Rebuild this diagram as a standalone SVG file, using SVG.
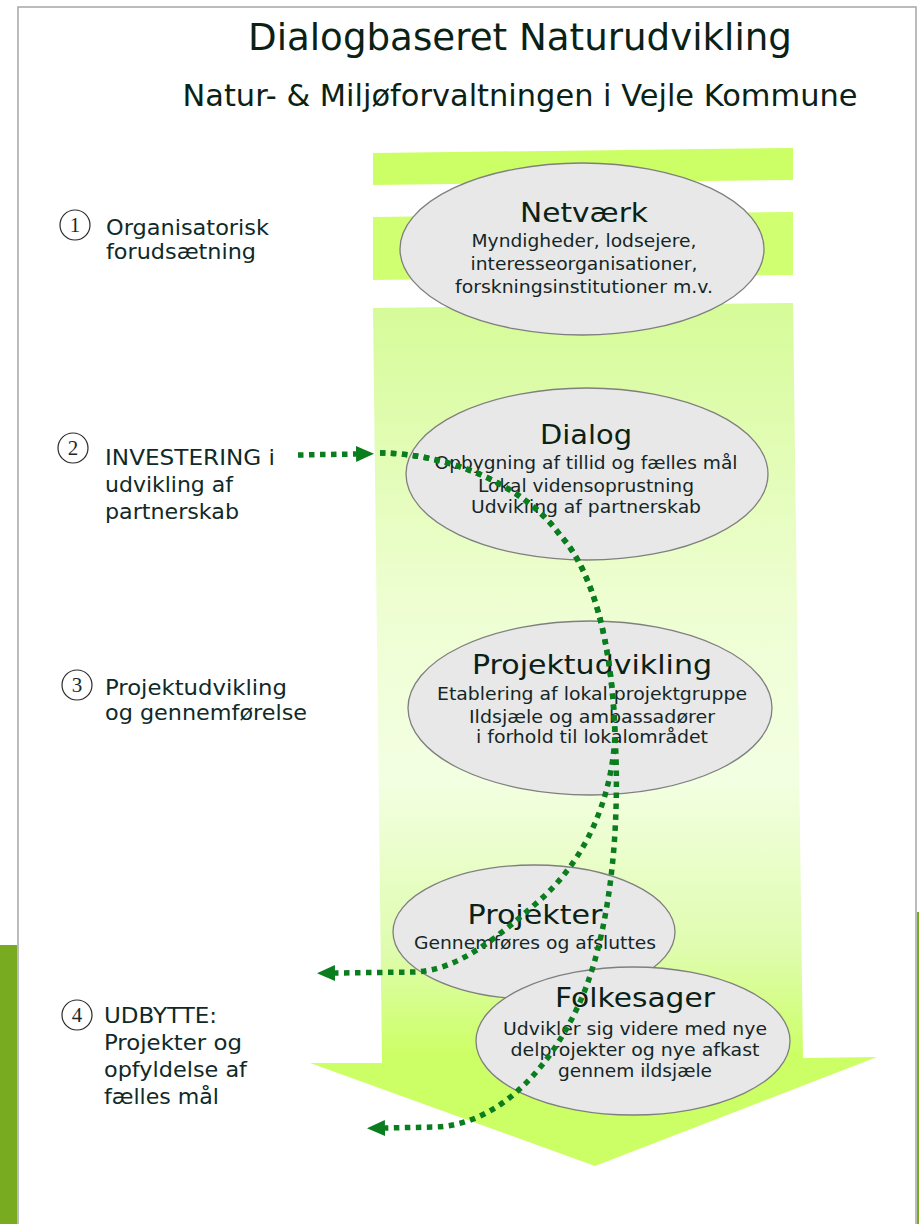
<svg xmlns="http://www.w3.org/2000/svg" width="919" height="1224" viewBox="0 0 919 1224">
<defs>
<style>
.tt{font-family:"DejaVu Sans",Verdana,sans-serif;fill:#0a2216;text-anchor:middle}
.nt{font-family:"DejaVu Sans",Verdana,sans-serif;font-size:27px;fill:#0a2216;text-anchor:middle}
.ns{font-family:"DejaVu Sans",Verdana,sans-serif;font-size:17px;fill:#142626;text-anchor:middle}
.lb{font-family:"DejaVu Sans",Verdana,sans-serif;font-size:21px;fill:#0f2a28}
.num{font-family:"Liberation Serif","Times New Roman",serif;font-size:21px;fill:#1a2a2a;text-anchor:middle}
.el{fill:#e8e8e8;stroke:#7f7f7f;stroke-width:1.3}
.cir{fill:none;stroke:#2a2a2a;stroke-width:1.2}
.con{fill:none;stroke:#0a7d1f;stroke-width:5.5;stroke-dasharray:5.5 5.5}
</style>
<linearGradient id="bodyg" gradientUnits="userSpaceOnUse" x1="0" y1="303" x2="0" y2="1166">
<stop offset="0" stop-color="#d6fb98"/>
<stop offset="0.35" stop-color="#eefed2"/>
<stop offset="0.55" stop-color="#f3ffe2"/>
<stop offset="0.75" stop-color="#dffcae"/>
<stop offset="0.87" stop-color="#ccff66"/>
<stop offset="1" stop-color="#ccff66"/>
</linearGradient>
<marker id="ah" markerUnits="userSpaceOnUse" markerWidth="20" markerHeight="18" refX="0" refY="8" orient="auto">
<path d="M0,0 L18,8 L0,16 z" fill="#0a7d1f"/>
</marker>
</defs>
<rect x="0" y="0" width="919" height="1224" fill="#ffffff"/>
<g id="frame">
<path d="M18,1224 L18,7 L916,7 L916,1224" fill="none" stroke="#a6a6a6" stroke-width="1.5"/>
<rect x="0" y="945" width="17" height="279" fill="#79ab20"/>
<rect x="917" y="912" width="2" height="312" fill="#79ab20"/>
</g>
<g id="title">
<text class="tt" x="520" y="50" font-size="38" textLength="544" lengthAdjust="spacingAndGlyphs">Dialogbaseret Naturudvikling</text>
<text class="tt" x="520" y="106" font-size="30" textLength="675" lengthAdjust="spacingAndGlyphs">Natur- &amp; Miljøforvaltningen i Vejle Kommune</text>
</g>
<g id="big-arrow">
<polygon points="373,153 793,148 793,180 373,185" fill="#ccff66"/>
<polygon points="373,217 793,212 793,275 373,280" fill="#d0ff72"/>
<polygon points="373,308 793,303 803,1058 877,1057 595,1166 310,1063 382,1063" fill="url(#bodyg)"/>
</g>
<g id="node-netvaerk">
<ellipse class="el" cx="582" cy="249" rx="182" ry="86"/>
<text class="nt" x="584" y="222" textLength="128" lengthAdjust="spacingAndGlyphs">Netværk</text>
<text class="ns" x="584" y="247" textLength="225" lengthAdjust="spacingAndGlyphs">Myndigheder, lodsejere,</text>
<text class="ns" x="584" y="270" textLength="227" lengthAdjust="spacingAndGlyphs">interesseorganisationer,</text>
<text class="ns" x="584" y="293" textLength="258" lengthAdjust="spacingAndGlyphs">forskningsinstitutioner m.v.</text>
</g>
<g id="node-dialog">
<ellipse class="el" cx="587" cy="474" rx="181" ry="86"/>
<text class="nt" x="586" y="444" textLength="92" lengthAdjust="spacingAndGlyphs">Dialog</text>
<text class="ns" x="586" y="469" textLength="303" lengthAdjust="spacingAndGlyphs">Opbygning af tillid og fælles mål</text>
<text class="ns" x="586" y="492" textLength="216" lengthAdjust="spacingAndGlyphs">Lokal vidensoprustning</text>
<text class="ns" x="586" y="513" textLength="230" lengthAdjust="spacingAndGlyphs">Udvikling af partnerskab</text>
</g>
<g id="node-projektudvikling">
<ellipse class="el" cx="590" cy="708" rx="182" ry="87"/>
<text class="nt" x="592" y="674" textLength="240" lengthAdjust="spacingAndGlyphs">Projektudvikling</text>
<text class="ns" x="592" y="700" textLength="310" lengthAdjust="spacingAndGlyphs">Etablering af lokal projektgruppe</text>
<text class="ns" x="592" y="723" textLength="246" lengthAdjust="spacingAndGlyphs">Ildsjæle og ambassadører</text>
<text class="ns" x="592" y="743" textLength="232" lengthAdjust="spacingAndGlyphs">i forhold til lokalområdet</text>
</g>
<g id="node-projekter">
<ellipse class="el" cx="534" cy="932" rx="141" ry="67"/>
<text class="nt" x="535" y="924" textLength="135" lengthAdjust="spacingAndGlyphs">Projekter</text>
<text class="ns" x="535" y="949" textLength="242" lengthAdjust="spacingAndGlyphs">Gennemføres og afsluttes</text>
</g>
<g id="node-folkesager">
<ellipse class="el" cx="633" cy="1041" rx="157" ry="74"/>
<text class="nt" x="635" y="1007" textLength="160" lengthAdjust="spacingAndGlyphs">Folkesager</text>
<text class="ns" x="635" y="1035" textLength="264" lengthAdjust="spacingAndGlyphs">Udvikler sig videre med nye</text>
<text class="ns" x="635" y="1056" textLength="249" lengthAdjust="spacingAndGlyphs">delprojekter og nye afkast</text>
<text class="ns" x="635" y="1077" textLength="154" lengthAdjust="spacingAndGlyphs">gennem ildsjæle</text>
</g>
<g id="label-1">
<circle class="cir" cx="75" cy="225" r="15"/>
<text class="num" x="75" y="232">1</text>
<text class="lb" x="106" y="235" textLength="163" lengthAdjust="spacingAndGlyphs">Organisatorisk</text>
<text class="lb" x="106" y="259" textLength="150" lengthAdjust="spacingAndGlyphs">forudsætning</text>
</g>
<g id="label-2">
<circle class="cir" cx="73" cy="448" r="15"/>
<text class="num" x="73" y="455">2</text>
<text class="lb" x="105" y="465" textLength="170" lengthAdjust="spacingAndGlyphs">INVESTERING i</text>
<text class="lb" x="105" y="492" textLength="128" lengthAdjust="spacingAndGlyphs">udvikling af</text>
<text class="lb" x="105" y="519" textLength="134" lengthAdjust="spacingAndGlyphs">partnerskab</text>
</g>
<g id="label-3">
<circle class="cir" cx="77" cy="685" r="15"/>
<text class="num" x="77" y="692">3</text>
<text class="lb" x="105" y="695" textLength="182" lengthAdjust="spacingAndGlyphs">Projektudvikling</text>
<text class="lb" x="105" y="720" textLength="202" lengthAdjust="spacingAndGlyphs">og gennemførelse</text>
</g>
<g id="label-4">
<circle class="cir" cx="77" cy="1015" r="15"/>
<text class="num" x="77" y="1022">4</text>
<text class="lb" x="104" y="1023" textLength="113" lengthAdjust="spacingAndGlyphs">UDBYTTE:</text>
<text class="lb" x="104" y="1050" textLength="138" lengthAdjust="spacingAndGlyphs">Projekter og</text>
<text class="lb" x="104" y="1077" textLength="143" lengthAdjust="spacingAndGlyphs">opfyldelse af</text>
<text class="lb" x="104" y="1104" textLength="115" lengthAdjust="spacingAndGlyphs">fælles mål</text>
</g>
<g id="connectors">
<path class="con" d="M298,455 L356,454" marker-end="url(#ah)"/>
<path class="con" d="M380,453 C440,453 520,480 560,535 C592,570 612,640 615,735 C612,800 585,860 540,900 C500,935 460,970 415,972 L335,973" marker-end="url(#ah)"/>
<path class="con" d="M380,453 C440,453 520,480 560,535 C592,570 612,640 615,735 C620,820 612,920 585,990 C555,1065 500,1125 435,1127 L385,1128" marker-end="url(#ah)"/>
</g>
</svg>
